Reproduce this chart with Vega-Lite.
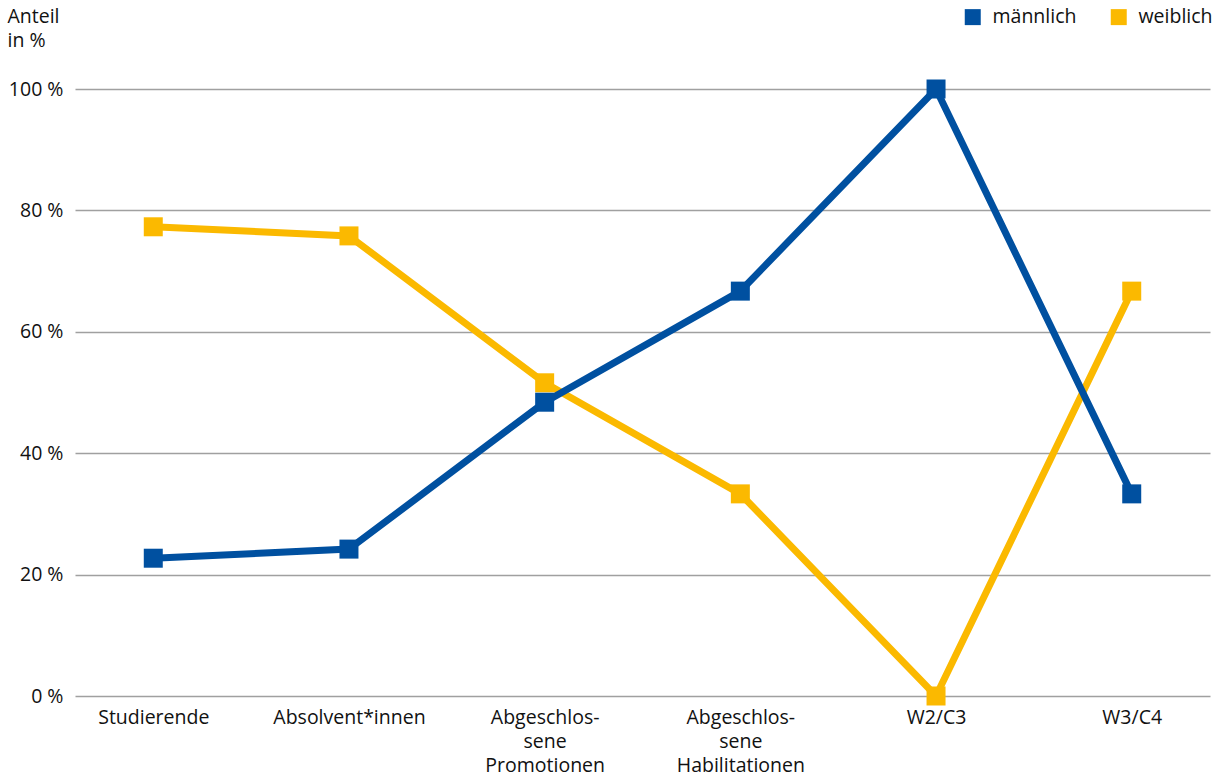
{
  "$schema": "https://vega.github.io/schema/vega-lite/v6.json",
  "autosize": {"type": "none"},
  "width": 1135,
  "height": 607,
  "padding": {"left": 75, "top": 89, "right": 15, "bottom": 86},
  "background": "white",
  "config": {
    "font": "Open Sans",
    "view": {"stroke": null}
  },
  "data": {
    "values": [
      {"kategorie": "Studierende", "geschlecht": "weiblich", "anteil": 77.3},
      {"kategorie": "Studierende", "geschlecht": "männlich", "anteil": 22.7},
      {"kategorie": "Absolvent*innen", "geschlecht": "weiblich", "anteil": 75.8},
      {"kategorie": "Absolvent*innen", "geschlecht": "männlich", "anteil": 24.2},
      {"kategorie": "Abgeschlossene Promotionen", "geschlecht": "weiblich", "anteil": 51.6},
      {"kategorie": "Abgeschlossene Promotionen", "geschlecht": "männlich", "anteil": 48.4},
      {"kategorie": "Abgeschlossene Habilitationen", "geschlecht": "weiblich", "anteil": 33.3},
      {"kategorie": "Abgeschlossene Habilitationen", "geschlecht": "männlich", "anteil": 66.7},
      {"kategorie": "W2/C3", "geschlecht": "weiblich", "anteil": 0},
      {"kategorie": "W2/C3", "geschlecht": "männlich", "anteil": 100},
      {"kategorie": "W3/C4", "geschlecht": "weiblich", "anteil": 66.7},
      {"kategorie": "W3/C4", "geschlecht": "männlich", "anteil": 33.3}
    ]
  },
  "encoding": {
    "x": {
      "field": "kategorie",
      "type": "nominal",
      "sort": null,
      "scale": {"type": "point", "padding": 0.4},
      "axis": {
        "title": null,
        "domain": false,
        "ticks": false,
        "labelAngle": 0,
        "labelFontSize": 19.5,
        "labelColor": "#111111",
        "labelPadding": 12,
        "labelLineHeight": 24,
        "labelBaseline": "top",
        "labelExpr": "datum.value == 'Abgeschlossene Promotionen' ? ['Abgeschlos-','sene','Promotionen'] : datum.value == 'Abgeschlossene Habilitationen' ? ['Abgeschlos-','sene','Habilitationen'] : datum.value"
      }
    },
    "y": {
      "field": "anteil",
      "type": "quantitative",
      "scale": {"domain": [0, 100], "nice": false},
      "axis": {
        "values": [0, 20, 40, 60, 80, 100],
        "domain": false,
        "ticks": false,
        "grid": true,
        "gridColor": "#a0a0a0",
        "gridWidth": 1.5,
        "labelFontSize": 19.5,
        "labelColor": "#111111",
        "labelPadding": 12,
        "labelExpr": "datum.value + ' %'",
        "title": ["Anteil", "in %"],
        "titleAngle": 0,
        "titleAlign": "left",
        "titleBaseline": "top",
        "titleFontSize": 19.5,
        "titleFontWeight": "normal",
        "titleColor": "#111111",
        "titleLineHeight": 24,
        "titleX": -68,
        "titleY": -82
      }
    },
    "color": {
      "field": "geschlecht",
      "type": "nominal",
      "scale": {"domain": ["männlich", "weiblich"], "range": ["#0050a0", "#fbb900"]},
      "legend": {
        "title": null,
        "orient": "none",
        "direction": "horizontal",
        "legendX": 888,
        "legendY": -82,
        "symbolType": "square",
        "symbolSize": 256,
        "symbolStrokeWidth": 0,
        "labelFontSize": 19.5,
        "labelColor": "#111111",
        "labelOffset": 10,
        "columnPadding": 32,
        "encode": {
          "symbols": {
            "enter": {
              "fill": {"signal": "datum.value == 'männlich' ? '#2b3a8a' : '#fbb900'"}
            },
            "update": {
              "fill": {"signal": "datum.value == 'männlich' ? '#2b3a8a' : '#fbb900'"},
              "opacity": {"value": 1}
            }
          }
        }
      }
    },
    "order": {"field": "geschlecht", "sort": "descending"}
  },
  "layer": [
    {
      "mark": {"type": "line", "strokeWidth": 7, "strokeJoin": "miter"},
      "encoding": {
        "detail": {"field": "geschlecht"}
      }
    },
    {
      "mark": {"type": "point", "shape": "square", "filled": true, "size": 361, "opacity": 1}
    }
  ]
}
